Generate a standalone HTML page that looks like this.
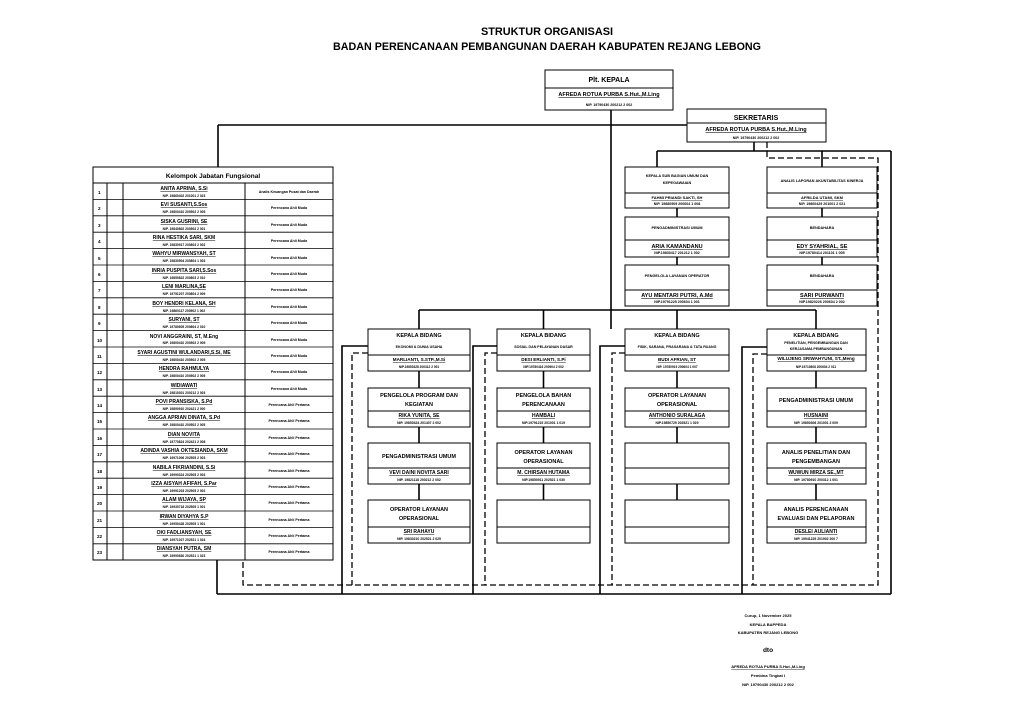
<!DOCTYPE html>
<html><head><meta charset="utf-8"><style>
html,body{margin:0;padding:0;background:#fff;width:1024px;height:725px;overflow:hidden}
svg{display:block}
text{font-family:"Liberation Sans",Arial,sans-serif;font-weight:bold;fill:#000}
</style></head><body>
<svg width="1024" height="725" viewBox="0 0 1024 725" xmlns="http://www.w3.org/2000/svg">
<g text-anchor="middle">
<text x="547" y="35" font-size="11" textLength="132" lengthAdjust="spacingAndGlyphs">STRUKTUR ORGANISASI</text>
<text x="547" y="50" font-size="11" textLength="428" lengthAdjust="spacingAndGlyphs">BADAN PERENCANAAN PEMBANGUNAN DAERAH KABUPATEN REJANG LEBONG</text>
</g>
<g stroke="#000" stroke-width="1.6" fill="none">
<line x1="218" y1="125" x2="687" y2="125"/>
<line x1="218" y1="125" x2="218" y2="168"/>
<line x1="611" y1="110" x2="611" y2="329"/>
<line x1="419" y1="310" x2="816" y2="310"/>
<line x1="419" y1="310" x2="419" y2="329"/>
<line x1="543.5" y1="310" x2="543.5" y2="329"/>
<line x1="677" y1="310" x2="677" y2="329"/>
<line x1="816" y1="310" x2="816" y2="329"/>
<line x1="754" y1="142" x2="754" y2="151"/>
<line x1="657" y1="151" x2="891" y2="151"/>
<line x1="657" y1="151" x2="657" y2="167"/>
<line x1="822" y1="151" x2="822" y2="167"/>
<line x1="891" y1="151" x2="891" y2="594"/>
<line x1="217" y1="560" x2="217" y2="594"/>
<line x1="217" y1="594" x2="891" y2="594"/>
<polyline points="368,346 342,346 342,594"/>
<polyline points="497,346 473,346 473,594"/>
<polyline points="625,346 600,346 600,594"/>
<polyline points="767,347 742,347 742,594"/>
<line x1="677" y1="208" x2="677" y2="217"/><line x1="677" y1="257" x2="677" y2="265"/>
<line x1="822" y1="208" x2="822" y2="217"/><line x1="822" y1="257" x2="822" y2="265"/>
<line x1="419" y1="371" x2="419" y2="388"/><line x1="419" y1="427" x2="419" y2="443"/><line x1="419" y1="484" x2="419" y2="500"/>
<line x1="543.5" y1="371" x2="543.5" y2="388"/><line x1="543.5" y1="427" x2="543.5" y2="443"/><line x1="543.5" y1="484" x2="543.5" y2="500"/>
<line x1="677" y1="371" x2="677" y2="388"/><line x1="677" y1="427" x2="677" y2="443"/><line x1="677" y1="484" x2="677" y2="500"/>
<line x1="816" y1="371" x2="816" y2="388"/><line x1="816" y1="427" x2="816" y2="443"/><line x1="816" y1="484" x2="816" y2="500"/>
</g>
<g stroke="#000" stroke-width="1.3" fill="none" stroke-dasharray="6,3">
<polyline points="767,142 767,158 878,158 878,585 243,585 243,560"/>
<polyline points="368,353 352,353 352,585"/>
<polyline points="497,353 485,353 485,585"/>
<polyline points="625,353 612,353 612,585"/>
<polyline points="767,354 753,354 753,585"/>
</g>
<g stroke="#000" stroke-width="1" fill="#fff">
<rect x="545" y="70" width="128" height="40"/><line x1="545" y1="88" x2="673" y2="88"/>
<rect x="687" y="109" width="139" height="33"/><line x1="687" y1="123" x2="826" y2="123"/>
<rect x="625" y="167" width="104" height="41"/><line x1="625" y1="193" x2="729" y2="193"/>
<rect x="625" y="217" width="104" height="40"/><line x1="625" y1="240" x2="729" y2="240"/>
<rect x="625" y="265" width="104" height="41"/><line x1="625" y1="290" x2="729" y2="290"/>
<rect x="767" y="167" width="110" height="41"/><line x1="767" y1="193" x2="877" y2="193"/>
<rect x="767" y="217" width="110" height="40"/><line x1="767" y1="240" x2="877" y2="240"/>
<rect x="767" y="265" width="110" height="41"/><line x1="767" y1="290" x2="877" y2="290"/>
<rect x="368" y="329" width="102" height="42"/><line x1="368" y1="355" x2="470" y2="355"/>
<rect x="368" y="388" width="102" height="39"/><line x1="368" y1="411" x2="470" y2="411"/>
<rect x="368" y="443" width="102" height="41"/><line x1="368" y1="468" x2="470" y2="468"/>
<rect x="368" y="500" width="102" height="43"/><line x1="368" y1="527" x2="470" y2="527"/>
<rect x="497" y="329" width="93" height="42"/><line x1="497" y1="355" x2="590" y2="355"/>
<rect x="497" y="388" width="93" height="39"/><line x1="497" y1="411" x2="590" y2="411"/>
<rect x="497" y="443" width="93" height="41"/><line x1="497" y1="468" x2="590" y2="468"/>
<rect x="497" y="500" width="93" height="43"/><line x1="497" y1="527" x2="590" y2="527"/>
<rect x="625" y="329" width="104" height="42"/><line x1="625" y1="355" x2="729" y2="355"/>
<rect x="625" y="388" width="104" height="39"/><line x1="625" y1="411" x2="729" y2="411"/>
<rect x="625" y="443" width="104" height="41"/><line x1="625" y1="468" x2="729" y2="468"/>
<rect x="625" y="500" width="104" height="43"/><line x1="625" y1="527" x2="729" y2="527"/>
<rect x="767" y="329" width="99" height="42"/><line x1="767" y1="355" x2="866" y2="355"/>
<rect x="767" y="388" width="99" height="39"/><line x1="767" y1="411" x2="866" y2="411"/>
<rect x="767" y="443" width="99" height="41"/><line x1="767" y1="468" x2="866" y2="468"/>
<rect x="767" y="500" width="99" height="43"/><line x1="767" y1="527" x2="866" y2="527"/>
<rect x="93" y="167" width="240" height="393"/>
<line x1="93" y1="183" x2="333" y2="183"/>
<line x1="107" y1="183" x2="107" y2="560"/>
<line x1="123" y1="183" x2="123" y2="560"/>
<line x1="245" y1="183" x2="245" y2="560"/>
</g>
<g stroke="#000" stroke-width="0.8">
<line x1="93" y1="199.4" x2="333" y2="199.4"/><line x1="93" y1="215.8" x2="333" y2="215.8"/><line x1="93" y1="232.2" x2="333" y2="232.2"/><line x1="93" y1="248.6" x2="333" y2="248.6"/><line x1="93" y1="265" x2="333" y2="265"/><line x1="93" y1="281.4" x2="333" y2="281.4"/><line x1="93" y1="297.8" x2="333" y2="297.8"/><line x1="93" y1="314.2" x2="333" y2="314.2"/><line x1="93" y1="330.6" x2="333" y2="330.6"/><line x1="93" y1="347" x2="333" y2="347"/><line x1="93" y1="363.4" x2="333" y2="363.4"/><line x1="93" y1="379.8" x2="333" y2="379.8"/><line x1="93" y1="396.2" x2="333" y2="396.2"/><line x1="93" y1="412.6" x2="333" y2="412.6"/><line x1="93" y1="429" x2="333" y2="429"/><line x1="93" y1="445.4" x2="333" y2="445.4"/><line x1="93" y1="461.8" x2="333" y2="461.8"/><line x1="93" y1="478.2" x2="333" y2="478.2"/><line x1="93" y1="494.6" x2="333" y2="494.6"/><line x1="93" y1="511" x2="333" y2="511"/><line x1="93" y1="527.4" x2="333" y2="527.4"/><line x1="93" y1="543.8" x2="333" y2="543.8"/>
</g>
<g text-anchor="middle">
<text x="609" y="82" font-size="7">Plt. KEPALA</text>
<text x="609" y="96" font-size="5.5" text-decoration="underline">AFREDA ROTUA PURBA S.Hut.,M.Ling</text>
<text x="609" y="106" font-size="3.6">NIP. 19790430 200212 2 002</text>
<text x="756" y="120" font-size="7">SEKRETARIS</text>
<text x="756" y="131" font-size="5.5" text-decoration="underline">AFREDA ROTUA PURBA S.Hut.,M.Ling</text>
<text x="756" y="139" font-size="3.6">NIP. 19790430 200212 2 002</text>
<text x="677" y="177" font-size="3.8">KEPALA SUB BAGIAN UMUM DAN</text>
<text x="677" y="184" font-size="3.8">KEPEGAWAIAN</text>
<text x="677" y="199" font-size="4" text-decoration="underline">FAHMI PRIANDI SAKTI, SH</text>
<text x="677" y="205" font-size="3.6">NIP. 19880909 200604 1 008</text>
<text x="677" y="229" font-size="3.8">PENGADMINISTRASI UMUM</text>
<text x="677" y="248" font-size="5.5" text-decoration="underline">ARIA KAMANDANU</text>
<text x="677" y="254" font-size="3.6">NIP.19830417 201212 1 002</text>
<text x="677" y="277" font-size="3.8">PENGELOLA LAYANAN OPERATOR</text>
<text x="677" y="297" font-size="5.5" text-decoration="underline">AYU MENTARI PUTRI, A.Md</text>
<text x="677" y="303" font-size="3.6">NIP.19791225 200604 1 001</text>
<text x="822" y="182" font-size="3.8">ANALIS LAPORAN AKUNTABILITAS KINERJA</text>
<text x="822" y="199" font-size="4" text-decoration="underline">AFRILDA UTAMI, SKM</text>
<text x="822" y="205" font-size="3.6">NIP. 19860429 201001 2 021</text>
<text x="822" y="229" font-size="3.8">BENDAHARA</text>
<text x="822" y="248" font-size="5.5" text-decoration="underline">EDY SYAHRIAL, SE</text>
<text x="822" y="254" font-size="3.6">NIP.19780414 201101 1 005</text>
<text x="822" y="277" font-size="3.8">BENDAHARA</text>
<text x="822" y="297" font-size="5.5" text-decoration="underline">SARI PURWANTI</text>
<text x="822" y="303" font-size="3.6">NIP.19820226 200604 2 002</text>
<text x="419" y="337" font-size="5.5">KEPALA BIDANG</text>
<text x="419" y="348" font-size="3.6">EKONOMI &amp; DUNIA USAHA</text>
<text x="419" y="361" font-size="4.6" text-decoration="underline">MARLIANTI, S.STP.,M.Si</text>
<text x="419" y="368" font-size="3.2">NIP.19850328 200312 2 001</text>
<text x="419" y="397" font-size="5.5">PENGELOLA PROGRAM DAN</text>
<text x="419" y="406" font-size="5.5">KEGIATAN</text>
<text x="419" y="417" font-size="5" text-decoration="underline">RIKA YUNITA, SE</text>
<text x="419" y="424" font-size="3.4">NIP.  19850424 201407 2 002</text>
<text x="419" y="458" font-size="5.5">PENGADMINISTRASI UMUM</text>
<text x="419" y="474" font-size="5" text-decoration="underline">VEVI DAINI NOVITA SARI</text>
<text x="419" y="481" font-size="3.4">NIP. 19821118 200212 2 002</text>
<text x="419" y="511" font-size="5.5">OPERATOR LAYANAN</text>
<text x="419" y="520" font-size="5.5">OPERASIONAL</text>
<text x="419" y="533" font-size="5" text-decoration="underline">SRI RAHAYU</text>
<text x="419" y="540" font-size="3.4">NIP. 19830210 202521 2 029</text>
<text x="543.5" y="337" font-size="5.5">KEPALA BIDANG</text>
<text x="543.5" y="348" font-size="3.6">SOSIAL DAN PELAYANAN DASAR</text>
<text x="543.5" y="361" font-size="4.6" text-decoration="underline">DESI ERLIANTI, S.Pi</text>
<text x="543.5" y="368" font-size="3.2">NIP.19780416 200904 2 002</text>
<text x="543.5" y="397" font-size="5.5">PENGELOLA BAHAN</text>
<text x="543.5" y="406" font-size="5.5">PERENCANAAN</text>
<text x="543.5" y="417" font-size="5" text-decoration="underline">HAMBALI</text>
<text x="543.5" y="424" font-size="3.4">NIP.19791215 201001 1 019</text>
<text x="543.5" y="454" font-size="5.5">OPERATOR LAYANAN</text>
<text x="543.5" y="463" font-size="5.5">OPERASIONAL</text>
<text x="543.5" y="474" font-size="5" text-decoration="underline">M. CHIRSAN HUTAMA</text>
<text x="543.5" y="481" font-size="3.4">NIP.19850911 202521 1 030</text>
<text x="677" y="337" font-size="5.5">KEPALA BIDANG</text>
<text x="677" y="348" font-size="3.6">FISIK, SARANA, PRASARANA &amp; TATA RUANG</text>
<text x="677" y="361" font-size="4.6" text-decoration="underline">BUDI AFRIAN, ST</text>
<text x="677" y="368" font-size="3.2">NIP. 19780919 200604 1 007</text>
<text x="677" y="397" font-size="5.5">OPERATOR LAYANAN</text>
<text x="677" y="406" font-size="5.5">OPERASIONAL</text>
<text x="677" y="417" font-size="5" text-decoration="underline">ANTHONIO SURALAGA</text>
<text x="677" y="424" font-size="3.4">NIP.19850729 202521 1 029</text>
<text x="816" y="337" font-size="5.5">KEPALA BIDANG</text>
<text x="816" y="344" font-size="3.6">PENELITIAN, PENGEMBANGAN DAN</text>
<text x="816" y="350" font-size="3.6">KERJASAMA PEMBANGUNAN</text>
<text x="816" y="360" font-size="4.6" text-decoration="underline">WILUJENG SRIWAHYUNI, ST.,Meng</text>
<text x="816" y="368" font-size="3.2">NIP.19710808 200604 2 011</text>
<text x="816" y="402" font-size="5.5">PENGADMINISTRASI UMUM</text>
<text x="816" y="417" font-size="5" text-decoration="underline">HUSNAINI</text>
<text x="816" y="424" font-size="3.4">NIP. 19850306 201001 2 009</text>
<text x="816" y="454" font-size="5.5">ANALIS PENELITIAN DAN</text>
<text x="816" y="463" font-size="5.5">PENGEMBANGAN</text>
<text x="816" y="474" font-size="5" text-decoration="underline">WUWUN MIRZA SE.,MT</text>
<text x="816" y="481" font-size="3.4">NIP. 19780910 200312 1 001</text>
<text x="816" y="511" font-size="5.5">ANALIS PERENCANAAN</text>
<text x="816" y="520" font-size="5.5">EVALUASI DAN PELAPORAN</text>
<text x="816" y="533" font-size="5" text-decoration="underline">DESLEI AULIANTI</text>
<text x="816" y="540" font-size="3.4">NIP. 19941229 201902 200 7</text>
<text x="213" y="178" font-size="6.5" font-weight="normal">Kelompok Jabatan Fungsional</text>
</g>
<g font-size="4.6">
<text x="98" y="194">1</text><text x="98" y="210">2</text><text x="98" y="227">3</text><text x="98" y="243">4</text><text x="98" y="260">5</text><text x="98" y="276">6</text><text x="98" y="292">7</text><text x="98" y="309">8</text><text x="98" y="325">9</text><text x="97" y="342">10</text><text x="97" y="358">11</text><text x="97" y="374">12</text><text x="97" y="391">13</text><text x="97" y="407">14</text><text x="97" y="423">15</text><text x="97" y="440">16</text><text x="97" y="456">17</text><text x="97" y="473">18</text><text x="97" y="489">19</text><text x="97" y="505">20</text><text x="97" y="522">21</text><text x="97" y="538">22</text><text x="97" y="554">23</text>
</g>
<g text-anchor="middle" font-size="5">
<g text-decoration="underline">
<text x="184" y="190">ANITA APRINA, S.Si</text>
<text x="184" y="206">EVI SUSANTI,S.Sos</text>
<text x="184" y="223">SISKA GUSRINI, SE</text>
<text x="184" y="239">RINA HESTIKA SARI, SKM</text>
<text x="184" y="255">WAHYU MIRWANSYAH, ST</text>
<text x="184" y="272">INRIA PUSPITA SARI,S.Sos</text>
<text x="184" y="288">LENI MARLINA,SE</text>
<text x="184" y="305">BOY HENDRI KELANA, SH</text>
<text x="184" y="321">SURYANI, ST</text>
<text x="184" y="354">SYARI AGUSTINI WULANDARI,S.Si, ME</text>
<text x="184" y="370">HENDRA RAHMULYA</text>
<text x="184" y="387">WIDIAWATI</text>
<text x="184" y="403">POVI PRANSISKA, S.Pd</text>
<text x="184" y="419">ANGGA APRIAN DINATA, S.Pd</text>
<text x="184" y="436">DIAN NOVITA</text>
<text x="184" y="452">ADINDA VASHIA OKTESIANDA, SKM</text>
<text x="184" y="469">NABILA FIKRIANDINI, S.Si</text>
<text x="184" y="485">IZZA AISYAH AFIFAH, S.Par</text>
<text x="184" y="501">ALAM WIJAYA, SP</text>
<text x="184" y="518">IRWAN DIYAHYA S.P</text>
<text x="184" y="534">OKI FADLIANSYAH, SE</text>
<text x="184" y="550">DIANSYAH PUTRA, SM</text>
</g>
<text x="184" y="338">NOVI ANGGRAINI, ST, M.Eng</text>
</g>
<g text-anchor="middle" font-size="3.3">
<text x="184" y="197">NIP. 19860402 201001 2 023</text>
<text x="184" y="213">NIP. 19800410 200502 2 005</text>
<text x="184" y="230">NIP. 19840802 200502 2 001</text>
<text x="184" y="246">NIP. 19830917 200803 2 002</text>
<text x="184" y="262">NIP. 19830504 200804 1 003</text>
<text x="184" y="279">NIP. 19850822 200803 2 010</text>
<text x="184" y="295">NIP. 19751207 200804 2 009</text>
<text x="184" y="312">NIP. 19860117 200502 1 002</text>
<text x="184" y="328">NIP. 19780605 200804 2 010</text>
<text x="184" y="344">NIP. 19800410 200502 2 005</text>
<text x="184" y="361">NIP. 19800410 200502 2 005</text>
<text x="184" y="377">NIP. 19800410 200502 2 005</text>
<text x="184" y="394">NIP. 19810301 200212 2 003</text>
<text x="184" y="410">NIP. 19890910 202421 2 000</text>
<text x="184" y="426">NIP. 19800410 200502 2 005</text>
<text x="184" y="443">NIP. 19770824 202421 2 008</text>
<text x="184" y="459">NIP. 19971006 202505 2 003</text>
<text x="184" y="476">NIP. 19990324 202505 2 003</text>
<text x="184" y="492">NIP. 19991203 202505 2 002</text>
<text x="184" y="508">NIP. 19930718 202505 1 001</text>
<text x="184" y="525">NIP. 19950428 202505 1 001</text>
<text x="184" y="541">NIP. 19971027 202521 1 024</text>
<text x="184" y="557">NIP. 19990830 202521 1 023</text>
</g>
<g text-anchor="middle" font-size="3.6">
<text x="289" y="193">Analis Keuangan Pusat dan Daerah</text>
<text x="289" y="209">Perencana Ahli Muda</text><text x="289" y="226">Perencana Ahli Muda</text><text x="289" y="242">Perencana Ahli Muda</text><text x="289" y="259">Perencana Ahli Muda</text><text x="289" y="275">Perencana Ahli Muda</text><text x="289" y="291">Perencana Ahli Muda</text><text x="289" y="308">Perencana Ahli Muda</text><text x="289" y="324">Perencana Ahli Muda</text><text x="289" y="341">Perencana Ahli Muda</text><text x="289" y="357">Perencana Ahli Muda</text><text x="289" y="373">Perencana Ahli Muda</text><text x="289" y="390">Perencana Ahli Muda</text>
<text x="289" y="406">Perencana Ahli Pertama</text><text x="289" y="422">Perencana Ahli Pertama</text><text x="289" y="439">Perencana Ahli Pertama</text><text x="289" y="455">Perencana Ahli Pertama</text><text x="289" y="472">Perencana Ahli Pertama</text><text x="289" y="488">Perencana Ahli Pertama</text><text x="289" y="504">Perencana Ahli Pertama</text><text x="289" y="521">Perencana Ahli Pertama</text><text x="289" y="537">Perencana Ahli Pertama</text><text x="289" y="553">Perencana Ahli Pertama</text>
</g>
<g text-anchor="middle" font-size="4">
<text x="768" y="617">Curup, 1 November 2025</text>
<text x="768" y="626">KEPALA BAPPEDA</text>
<text x="768" y="634">KABUPATEN REJANG LEBONG</text>
<text x="768" y="652" font-size="6.5" font-weight="normal">dto</text>
<text x="768" y="668" text-decoration="underline">AFREDA ROTUA PURBA S.Hut.,M.Ling</text>
<text x="768" y="677">Pembina Tingkat I</text>
<text x="768" y="686">NIP. 19790430 200212 2 002</text>
</g>
</svg>
</body></html>
